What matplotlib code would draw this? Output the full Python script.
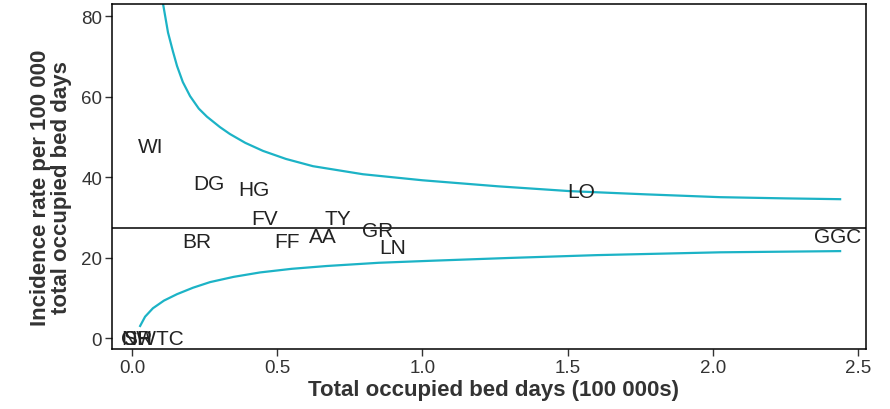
import numpy as np
import matplotlib
matplotlib.use("Agg")
import matplotlib.pyplot as plt

plt.rcParams['font.family'] = ['Liberation Sans', 'DejaVu Sans']

# health boards: occupied bed days (100 000s) and incidence rate
boards = ["WI", "DG", "HG", "FV", "BR", "FF", "AA", "TY", "GR", "LN", "LO", "GGC",
          "NWTC", "OR", "SH"]
bed_days = [0.065, 0.265, 0.42, 0.458, 0.224, 0.534, 0.658, 0.709, 0.847, 0.899,
            1.546, 2.428, 0.07, 0.017, 0.02]
rate = [47.7, 38.5, 36.8, 29.6, 23.9, 23.9, 25.3, 29.6, 26.8, 22.4,
        36.3, 25.3, 0.0, 0.0, 0.0]
mean_rate = 27.3

# control limits
upper_x = [0.107, 0.124, 0.141, 0.155, 0.175, 0.2, 0.23, 0.258, 0.303, 0.337, 0.39, 0.451,
           0.53, 0.623, 0.795, 1.0, 1.26, 1.508, 1.77, 2.025, 2.25, 2.438]
upper_y = [83.0, 75.9, 71.2, 67.6, 63.6, 60.1, 57.0, 55.0, 52.4, 50.7, 48.5, 46.5,
           44.5, 42.7, 40.7, 39.2, 37.7, 36.5, 35.7, 35.0, 34.7, 34.5]
lower_x = [0.028, 0.045, 0.072, 0.11, 0.155, 0.21, 0.269, 0.35, 0.441, 0.55, 0.671,
           0.85, 1.03, 1.3, 1.6, 2.025, 2.438]
lower_y = [3.0, 5.3, 7.4, 9.3, 10.9, 12.5, 13.9, 15.2, 16.3, 17.2, 17.9,
           18.7, 19.2, 19.9, 20.6, 21.3, 21.6]

fig = plt.figure(figsize=(8.9, 4.1), dpi=100)
ax = fig.add_axes([0.1258, 0.1463, 0.8472, 0.8415])

curve_col = "#1cb3c6"
ax.plot(upper_x, upper_y, color=curve_col, lw=1.6)
ax.plot(lower_x, lower_y, color=curve_col, lw=1.6)
ax.axhline(mean_rate, color="black", lw=1.1)

for name, x, y in zip(boards, bed_days, rate):
    ax.text(x, y, name, ha="center", va="center", fontsize=15, color="#222222")

ax.set_xlim(-0.069, 2.527)
ax.set_ylim(-2.73, 83.0)
ax.set_xticks([0, 0.5, 1.0, 1.5, 2.0, 2.5])
ax.set_xticklabels(["0.0", "0.5", "1.0", "1.5", "2.0", "2.5"])
ax.set_yticks([0, 20, 40, 60, 80])
ax.tick_params(labelsize=13.5, length=5, width=1, colors="#333333", labelcolor="#333333", pad=2)
for s in ax.spines.values():
    s.set_linewidth(1.1)

fig.text(494 / 890, 1 - 391 / 410, "Total occupied bed days (100 000s)", fontsize=16,
         fontweight="bold", color="#333333", ha="center", va="center")
fig.text(51 / 890, 1 - 188 / 410, "Incidence rate per 100 000\ntotal occupied bed days",
         fontsize=16, fontweight="bold", color="#333333", ha="center", va="center",
         rotation=90, linespacing=1.0)

fig.savefig("out.png", dpi=100)
